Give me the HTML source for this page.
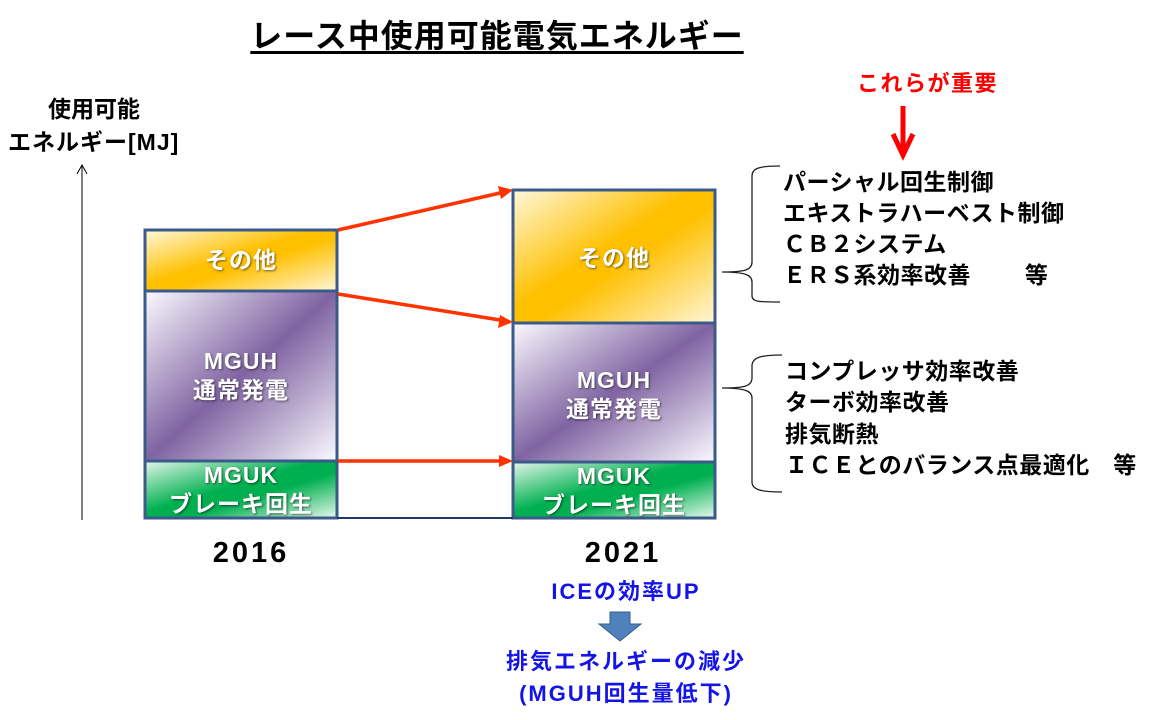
<!DOCTYPE html>
<html><head><meta charset="utf-8"><style>
body{margin:0;width:1150px;height:720px;background:#fff;position:relative;overflow:hidden;font-family:"Liberation Sans","Noto Sans CJK JP",sans-serif;font-weight:bold}
.t{position:absolute;white-space:nowrap;line-height:1}
.c{transform:translateX(-50%)}
.w{color:#fff;text-shadow:1px 1px 2px rgba(0,0,0,.55);text-align:center;font-size:23px;line-height:29px;letter-spacing:1px}
.r{font-size:23px;color:#000;letter-spacing:.5px}
.b{color:#1414e6;font-size:22px;letter-spacing:2px}
</style></head><body>
<svg width="1150" height="720" style="position:absolute;left:0;top:0">
<defs>
<linearGradient id="y" x1="0" y1="0" x2="1" y2="1"><stop offset="0" stop-color="#fff8dc"/><stop offset=".45" stop-color="#ffc000"/><stop offset=".55" stop-color="#ffc000"/><stop offset="1" stop-color="#fff6d8"/></linearGradient>
<linearGradient id="p" x1="0" y1="0" x2="1" y2="1"><stop offset="0" stop-color="#fbfaff"/><stop offset=".5" stop-color="#8064a2"/><stop offset="1" stop-color="#fbfaff"/></linearGradient>
<linearGradient id="g" x1="0" y1="0" x2="1" y2="1"><stop offset="0" stop-color="#e4f6ea"/><stop offset=".45" stop-color="#00b050"/><stop offset=".6" stop-color="#00b050"/><stop offset="1" stop-color="#e8f8ee"/></linearGradient>
</defs>
<line x1="82" y1="520" x2="82" y2="166" stroke="#000" stroke-width="1"/>
<path d="M77,174 L82,165 L87,174" fill="none" stroke="#000" stroke-width="1"/>
<g stroke="#3a5a8a" stroke-width="3">
<rect x="145" y="230" width="192" height="61" fill="url(#y)"/>
<rect x="145" y="291" width="192" height="170" fill="url(#p)"/>
<rect x="145" y="461" width="192" height="57" fill="url(#g)"/>
<rect x="513" y="190" width="202" height="133" fill="url(#y)"/>
<rect x="513" y="323" width="202" height="139" fill="url(#p)"/>
<rect x="513" y="462" width="202" height="56" fill="url(#g)"/>
</g>
<line x1="337" y1="518" x2="513" y2="518" stroke="#1f3864" stroke-width="2"/>
<g stroke="#ff3300" stroke-width="3.5" fill="none">
<line x1="338" y1="230" x2="500" y2="193"/>
<line x1="338" y1="294" x2="500" y2="320"/>
<line x1="338" y1="461" x2="500" y2="461"/>
</g>
<g fill="#ff3300">
<path d="M513,190 L498,186 L501,199 Z"/>
<path d="M513,322 L500,315 L498,328 Z"/>
<path d="M513,461 L499,455 L499,467 Z"/>
</g>
<path d="M903,106 L903,152" stroke="#ff0000" stroke-width="5"/>
<path d="M893,134 L903,155 L913,134" fill="none" stroke="#ff0000" stroke-width="5"/>
<path d="M780,166 C760,166 752,168 752,176 L752,262 C752,270 745,272 722,272 C745,272 752,275 752,282 L752,296 C752,302 760,302 780,302" fill="none" stroke="#222" stroke-width="1.3"/>
<path d="M782,355 C762,355 752,357 752,366 L752,378 C752,386 745,388 722,388 C745,388 752,391 752,398 L752,482 C752,490 762,492 782,492" fill="none" stroke="#222" stroke-width="1.3"/>
<path d="M610,612 L630,612 L630,624 L641,624 L620,641 L599,624 L610,624 Z" fill="#4f81bd" stroke="#385d8a" stroke-width="1"/>
</svg>
<div class="t c" style="left:497px;top:20px;font-size:32px;letter-spacing:1px;text-decoration:underline;text-underline-offset:4px">レース中使用可能電気エネルギー</div>
<div class="t c" style="left:94px;top:98px;font-size:23px">使用可能</div>
<div class="t" style="left:8px;top:131px;font-size:23px;letter-spacing:1px">エネルギー[MJ]</div>
<div class="t c w" style="left:241px;top:246px">その他</div>
<div class="t c w" style="left:241px;top:347px">MGUH<br>通常発電</div>
<div class="t c w" style="left:241px;top:461px">MGUK<br>ブレーキ回生</div>
<div class="t c w" style="left:614px;top:244px">その他</div>
<div class="t c w" style="left:614px;top:366px">MGUH<br>通常発電</div>
<div class="t c w" style="left:614px;top:462px">MGUK<br>ブレーキ回生</div>
<div class="t c" style="left:251px;top:539px;font-size:29px;letter-spacing:3px">2016</div>
<div class="t c" style="left:623px;top:539px;font-size:29px;letter-spacing:3px">2021</div>
<div class="t c b" style="left:626px;top:581px">ICEの効率UP</div>
<div class="t c b" style="left:626px;top:651px">排気エネルギーの減少</div>
<div class="t c b" style="left:626px;top:683px">(MGUH回生量低下)</div>
<div class="t" style="left:857px;top:73px;font-size:22px;letter-spacing:1.5px;color:#ff0000">これらが重要</div>
<div class="t r" style="left:783px;top:171px">パーシャル回生制御</div>
<div class="t r" style="left:783px;top:202px">エキストラハーベスト制御</div>
<div class="t r" style="left:783px;top:233px">ＣＢ２システム</div>
<div class="t r" style="left:783px;top:264px">ＥＲＳ系効率改善　　 等</div>
<div class="t r" style="left:785px;top:360px">コンプレッサ効率改善</div>
<div class="t r" style="left:785px;top:391px">ターボ効率改善</div>
<div class="t r" style="left:785px;top:423px">排気断熱</div>
<div class="t r" style="left:785px;top:454px">ＩＣＥとのバランス点最適化　等</div>
</body></html>
